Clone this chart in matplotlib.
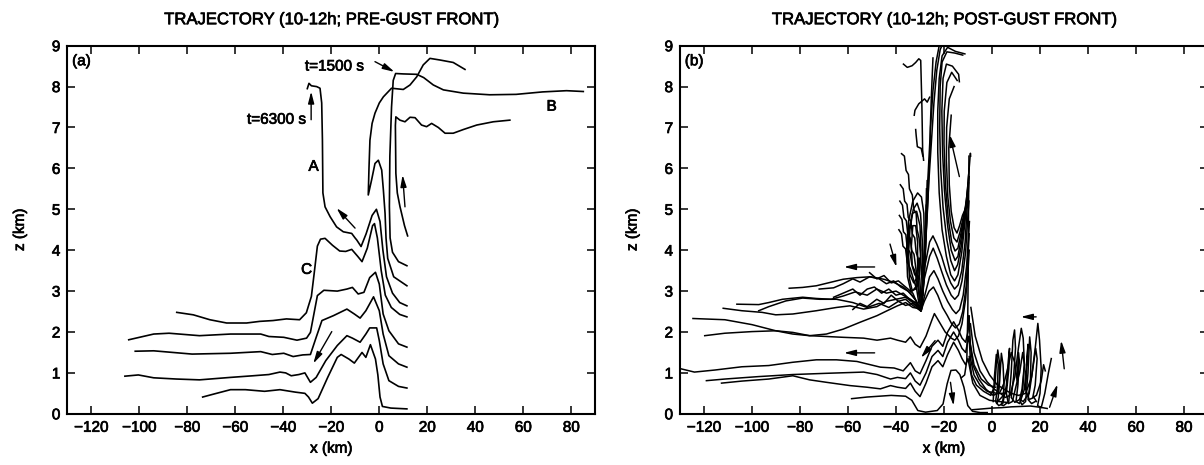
import matplotlib
matplotlib.use("Agg")
import matplotlib.pyplot as plt
import matplotlib.patheffects as pe

plt.rcParams['font.family'] = ['Liberation Sans', 'DejaVu Sans']

# ---------------- panel (a): pre-gust-front trajectories ----------------
A_x = [-30.0, -29.3, -28.3, -26.1, -24.7, -24.0, -23.7, -23.5, -22.6, -20.5, -17.8, -15.0,
       -11.5, -10.1, -9.4, -7.6, -5.5, -3.0, -1.2, 0.3, 1.5, 3.0, 5.5, 8.5, 11.5]
A_z = [7.95, 8.08, 8.02, 8.00, 7.96, 7.60, 6.70, 5.40, 5.06, 4.82, 4.57, 4.45,
       4.41, 4.30, 4.25, 4.09, 4.40, 4.85, 5.00, 4.70, 4.00, 3.35, 2.95, 2.72, 2.64]

B_x = [11.5, 8.0, 5.5, 4.5, 4.2, 4.4, 5.1, 5.8, 6.8, 10.0, 15.6, 18.5, 22.5, 26.7,
       35.0, 46.0, 57.0, 68.0, 78.0, 85.0]
B_z = [3.62, 3.72, 3.95, 4.30, 5.07, 6.30, 7.50, 8.15, 8.32, 8.31, 8.30, 8.22, 8.04, 7.92,
       7.84, 7.80, 7.81, 7.87, 7.90, 7.88]

C_x = [-84.4, -77.5, -70.6, -63.6, -55.3, -49.8, -44.3, -38.7, -33.2, -30.4, -28.3, -27.2,
       -25.8, -24.5, -22.6, -19.5, -16.5, -14.0, -11.5, -9.0, -7.2, -5.0, -2.8, -2.0, -0.8,
       0.8, 2.5, 5.0, 8.5, 11.5]
C_z = [2.48, 2.42, 2.30, 2.22, 2.22, 2.26, 2.28, 2.32, 2.30, 2.47, 2.87, 3.40,
       4.10, 4.27, 4.29, 4.12, 3.98, 3.97, 4.02, 3.85, 3.72, 4.05, 4.60, 4.65, 4.30,
       3.50, 2.90, 2.60, 2.43, 2.37]

hook_x = [11.5, 6.0, 3.5, 2.8, 2.4, 1.7, 1.0, -0.4, -1.8, -3.2, -4.6, -4.3, -3.9, -3.0,
          -1.8, 0.0, 1.7, 5.1, 10.0, 12.8, 15.6, 18.3, 21.1, 25.3, 30.8, 35.7]
hook_z = [3.13, 3.35, 3.80, 4.30, 4.90, 5.47, 5.96, 6.20, 6.12, 5.72, 5.35, 6.00, 6.69, 7.10,
          7.35, 7.60, 7.75, 7.96, 7.93, 8.04, 8.24, 8.53, 8.69, 8.65, 8.59, 8.42]

upper_x = [11.8, 10.5, 8.6, 7.5, 6.9, 6.8, 6.7, 6.9, 8.6, 10.7, 12.8, 14.9, 17.6, 19.7,
           21.8, 24.6, 27.4, 30.8, 35.0, 40.6, 47.5, 54.4]
upper_z = [4.35, 4.60, 5.07, 5.40, 5.88, 6.50, 7.05, 7.26, 7.18, 7.14, 7.25, 7.24, 7.06, 7.02,
           7.10, 7.00, 6.86, 6.86, 6.95, 7.06, 7.14, 7.18]

low1_x = [-104.4, -94.0, -87.6, -74.9, -62.0, -49.4, -46.0, -39.8, -34.3, -30.3, -28.7,
          -25.8, -23.1, -17.5, -13.5, -11.2, -8.8, -6.4, -4.0, -1.6, 0.0, 1.6, 4.0, 8.0, 11.5]
low1_z = [1.81, 1.95, 1.97, 1.91, 1.95, 1.95, 1.89, 1.87, 1.80, 1.85, 1.99,
          2.89, 3.02, 3.00, 3.05, 3.09, 2.93, 2.97, 3.33, 3.46, 3.17, 2.44, 2.03, 1.71, 1.63]

low2_x = [-101.7, -94.0, -86.0, -78.0, -62.0, -49.4, -44.6, -39.8, -35.9, -31.9, -28.7,
          -26.3, -23.9, -19.1, -13.5, -10.4, -8.0, -5.6, -2.4, 0.0, 1.6, 4.0, 8.0, 11.5]
low2_z = [1.53, 1.54, 1.50, 1.46, 1.48, 1.52, 1.45, 1.48, 1.40, 1.44, 1.45,
          1.87, 2.28, 2.40, 2.56, 2.44, 2.34, 2.52, 2.86, 2.52, 1.95, 1.42, 1.22, 1.14]

low3_x = [-106.0, -100.4, -94.0, -84.5, -74.9, -62.0, -52.6, -46.0, -41.4, -39.0, -36.7,
          -33.5, -31.0, -28.7, -26.3, -22.3, -17.5, -13.5, -11.2, -8.0, -5.6, -4.0, -1.1,
          0.0, 1.6, 4.0, 8.0, 11.5]
low3_z = [0.92, 0.95, 0.88, 0.85, 0.83, 0.89, 0.93, 0.96, 1.02, 1.00, 0.93,
          0.96, 1.00, 0.77, 0.89, 1.30, 1.67, 1.91, 1.85, 1.75, 1.95, 2.10, 2.10,
          1.79, 1.22, 0.81, 0.67, 0.63]

low4_x = [-73.6, -68.5, -62.0, -55.8, -47.8, -41.4, -35.0, -31.0, -29.5, -27.9, -25.5,
          -21.5, -17.5, -15.9, -12.7, -10.4, -7.2, -5.6, -3.7, -1.6, -0.6, 0.3, 1.3, 4.8, 11.5]
low4_z = [0.41, 0.49, 0.59, 0.59, 0.55, 0.59, 0.53, 0.50, 0.41, 0.26, 0.37,
          0.89, 1.38, 1.45, 1.34, 1.24, 1.50, 1.38, 1.69, 1.34, 0.95, 0.41, 0.18, 0.14, 0.12]

# ---------------- panel (b): post-gust-front trajectories ----------------
# long low-level paths entering from the west and climbing the wall near x=-10
b_low_d_x = [-58.5, -52.0, -42.0, -36.0, -33.4, -30.9, -27.7, -22.8, -20.4, -18.7, -17.1,
             -15.0, -13.4, -11.7, -10.1, -8.1, -4.9, -2.0]
b_low_d_z = [0.37, 0.41, 0.45, 0.43, 0.33, 0.08, 0.04, 0.08, 0.24, 0.73, 1.06,
             1.07, 0.96, 0.65, 0.20, 0.06, 0.03, 0.03]

b_low_c_x = [-112.7, -104.2, -93.0, -83.0, -76.0, -69.0, -59.2, -52.1, -46.5, -42.3, -39.4,
             -36.0, -34.0, -32.0, -30.0, -27.5, -25.0, -22.5, -20.5, -18.5, -16.0, -14.0,
             -12.5, -11.0, -10.0, -9.2, -8.0, -5.0, -1.0, 3.0, 6.0]
b_low_c_z = [0.75, 0.80, 0.85, 0.93, 0.83, 0.77, 0.69, 0.65, 0.61, 0.69, 0.65,
             0.62, 0.75, 0.55, 0.42, 0.75, 1.15, 1.30, 1.15, 1.45, 1.75, 1.55,
             1.35, 1.20, 1.35, 1.10, 0.75, 0.45, 0.33, 0.30, 0.28]

b_low_b_x = [-119.0, -111.3, -97.2, -83.0, -69.0, -53.5, -47.9, -42.3, -39.4, -36.0, -34.0,
             -32.0, -30.0, -27.5, -25.0, -22.5, -20.5, -18.5, -16.0, -14.0, -12.5, -11.0,
             -10.0, -9.6, -9.0, -7.5, -5.0, -2.0, 2.0, 5.0]
b_low_b_z = [0.81, 0.85, 0.91, 0.96, 0.99, 1.02, 0.96, 0.85, 0.89, 0.86, 1.00,
             0.80, 0.70, 1.00, 1.40, 1.55, 1.40, 1.75, 2.00, 1.80, 1.60, 1.50,
             1.80, 1.90, 1.35, 0.95, 0.70, 0.55, 0.50, 0.50]

b_low_a_x = [-129.6, -124.0, -115.5, -104.2, -93.0, -83.0, -73.2, -64.8, -56.3, -50.7, -46.5,
             -40.8, -37.0, -34.0, -32.0, -30.0, -27.5, -25.0, -22.5, -20.5, -18.5, -16.0,
             -14.0, -12.5, -11.0, -10.0, -9.6, -9.4, -9.0, -7.5, -4.5, -1.5, 1.5]
b_low_a_z = [1.10, 1.02, 1.07, 1.15, 1.18, 1.26, 1.32, 1.32, 1.28, 1.20, 1.14,
             1.12, 1.05, 1.25, 1.05, 0.98, 1.30, 1.65, 1.80, 1.65, 2.00, 2.25,
             2.05, 1.85, 1.75, 2.00, 2.40, 2.20, 1.70, 1.20, 0.85, 0.70, 0.65]

b_low_f_x = [-119.7, -111.3, -100.0, -90.1, -83.0, -76.0, -69.0, -62.0, -53.5, -47.9, -42.3,
             -39.4, -36.0, -34.0, -32.0, -30.0, -27.5, -25.0, -24.0, -22.0, -19.5, -17.0,
             -15.5, -14.0, -12.5, -11.0, -10.0, -9.5]
b_low_f_z = [1.91, 1.97, 2.01, 2.03, 1.99, 1.91, 1.89, 1.87, 1.85, 1.80, 1.85,
             1.80, 1.75, 1.88, 1.70, 1.62, 1.90, 2.30, 2.45, 2.25, 2.00, 1.85,
             1.80, 1.90, 2.20, 2.80, 3.50, 4.00]

b_low_e_x = [-124.6, -111.3, -100.0, -90.1, -83.0, -76.0, -69.0, -62.0, -54.9, -47.9, -43.7,
             -39.4, -36.0, -33.0, -31.0, -29.7, -28.6, -27.9, -27.4]
b_low_e_z = [2.33, 2.30, 2.18, 2.03, 1.95, 1.91, 1.95, 2.07, 2.24, 2.40, 2.52,
             2.64, 2.72, 2.60, 2.58, 2.52, 3.30, 4.20, 5.10]

# near-vertical ascent along the wall
b_wall_x = [-12.8, -11.4, -10.5, -10.1, -9.9, -9.8, -9.7, -9.6]
b_wall_z = [0.88, 0.95, 1.30, 2.40, 3.60, 4.80, 5.70, 6.30]

# chevrons leaving the cusp eastward and climbing the wall
b_chev1_x = [-29.6, -28.2, -26.2, -24.4, -22.6, -20.6, -18.6, -16.8, -15.2, -13.6, -12.2,
             -10.8, -10.0, -9.5]
b_chev1_z = [2.52, 2.75, 3.00, 3.10, 2.90, 2.60, 2.40, 2.20, 2.10, 2.20, 2.50,
             3.10, 3.90, 4.40]
b_chev2_x = [-29.6, -28.0, -26.0, -24.2, -22.5, -20.5, -18.5, -16.5, -15.0, -13.5, -12.0,
             -10.6, -9.8, -9.4]
b_chev2_z = [2.52, 2.90, 3.35, 3.50, 3.30, 3.00, 2.75, 2.55, 2.45, 2.55, 2.90,
             3.60, 4.30, 4.70]
b_chev3_x = [-29.4, -28.2, -26.0, -24.5, -22.8, -20.8, -19.0, -17.0, -15.5, -14.0, -12.5,
             -11.0, -10.2, -9.6]
b_chev3_z = [2.60, 3.30, 3.85, 4.05, 3.80, 3.45, 3.15, 2.90, 2.80, 2.90, 3.25,
             3.95, 4.70, 5.20]
b_chev4_x = [-29.2, -28.0, -26.0, -24.6, -23.0, -21.0, -19.2, -17.2, -15.6, -14.1, -12.6,
             -11.2, -10.4, -9.8, -9.5]
b_chev4_z = [2.90, 3.60, 4.20, 4.35, 4.15, 3.85, 3.50, 3.20, 3.05, 3.15, 3.50,
             4.20, 5.00, 5.50, 5.80]

# mid-level paths converging on the cusp near x=-30, z=2.5
b_mid_g_x = [-112.0, -104.2, -95.8, -90.1, -83.0, -73.2, -64.8, -59.2, -53.5, -48.0, -44.0,
             -40.0, -36.0, -33.0, -31.0, -29.7]
b_mid_g_z = [2.58, 2.52, 2.48, 2.42, 2.44, 2.52, 2.60, 2.64, 2.56, 2.62, 2.75,
             2.80, 2.85, 2.72, 2.62, 2.52]
b_mid_h_x = [-106.3, -97.2, -93.0, -87.3, -78.9, -73.2, -67.0, -62.0, -57.0, -52.0, -48.0,
             -44.0, -40.0, -37.0, -34.0, -31.5, -29.7]
b_mid_h_z = [2.68, 2.67, 2.72, 2.80, 2.85, 2.82, 2.80, 2.88, 2.98, 2.90, 3.05,
             2.95, 3.00, 2.90, 2.80, 2.70, 2.52]
b_mid_i_x = [-97.2, -93.0, -85.9, -78.9, -71.8, -64.8, -58.0, -52.0, -47.0, -43.0, -39.0,
             -36.0, -33.0, -31.0, -29.7]
b_mid_i_z = [2.52, 2.62, 2.76, 2.83, 2.80, 2.80, 2.72, 2.60, 2.70, 2.60, 2.75,
             2.65, 2.70, 2.60, 2.52]
b_mid_j_x = [-84.5, -78.9, -73.2, -67.6, -62.0, -56.3, -50.7, -45.1, -40.8, -37.0, -34.0,
             -31.5, -29.7]
b_mid_j_z = [3.07, 3.09, 3.13, 3.21, 3.29, 3.33, 3.35, 3.29, 3.21, 3.10, 2.95,
             2.75, 2.52]
b_mid_k_x = [-72.0, -66.0, -62.0, -58.0, -55.0, -51.0, -47.0, -44.0, -41.0, -38.0, -35.0,
             -32.0, -29.8]
b_mid_k_z = [3.05, 3.08, 3.18, 3.30, 3.22, 3.35, 3.30, 3.18, 3.25, 3.10, 3.00,
             2.80, 2.55]
b_mid_l_x = [-66.0, -62.0, -58.0, -55.0, -52.0, -49.0, -46.0, -43.0, -40.0, -37.0, -34.0,
             -31.5, -29.8]
b_mid_l_z = [2.85, 2.95, 3.05, 2.90, 3.05, 3.10, 2.95, 3.05, 2.90, 2.95, 2.78,
             2.70, 2.55]
b_mid_m_x = [-58.0, -55.0, -52.0, -48.0, -45.0, -42.0, -39.0, -36.0, -33.0, -30.5]
b_mid_m_z = [2.55, 2.70, 2.62, 2.80, 2.70, 2.90, 2.75, 2.80, 2.65, 2.55]
b_mid_n_x = [-51.0, -48.0, -45.0, -42.0, -39.0, -36.0, -33.0, -30.5]
b_mid_n_z = [3.45, 3.30, 3.38, 3.20, 3.25, 3.10, 2.95, 2.60]

# saw-tooth descents west of the cusp
b_saw1_x = [-37.7, -36.5, -35.8, -34.8, -34.4, -33.2, -32.6, -31.6, -31.2, -30.4, -29.8, -29.3, -28.9]
b_saw1_z = [6.36, 6.30, 5.95, 5.85, 5.50, 5.35, 5.00, 4.90, 4.50, 4.30, 3.90, 3.40, 2.80]
b_saw2_x = [-38.2, -37.0, -36.4, -35.4, -34.9, -33.8, -33.2, -32.2, -31.6, -30.8, -30.1, -29.5]
b_saw2_z = [5.60, 5.50, 5.20, 5.12, 4.80, 4.70, 4.40, 4.30, 3.95, 3.80, 3.30, 2.70]
b_saw3_x = [-38.4, -37.3, -36.7, -35.7, -35.1, -34.1, -33.5, -32.5, -31.6, -30.6, -29.9]
b_saw3_z = [5.20, 5.10, 4.80, 4.72, 4.40, 4.30, 4.00, 3.90, 3.50, 3.20, 2.65]
b_saw4_x = [-38.6, -37.5, -36.9, -35.9, -35.3, -34.2, -33.4, -32.2, -31.0, -30.0]
b_saw4_z = [4.85, 4.75, 4.45, 4.38, 4.05, 3.95, 3.65, 3.50, 3.15, 2.70]
b_saw5_x = [-38.8, -37.7, -37.1, -36.0, -35.3, -34.0, -32.8, -31.4, -30.2]
b_saw5_z = [4.50, 4.40, 4.10, 4.03, 3.70, 3.55, 3.30, 3.05, 2.60]

# eddy behind the cusp
b_eddy1_x = [-29.7, -28.6, -28.2, -28.4, -29.4, -31.0, -33.0, -34.8, -35.6, -35.2, -33.8, -31.8,
             -30.2, -29.6, -30.0, -31.4, -33.2, -34.6, -35.0, -34.2, -32.6, -31.0, -30.3]
b_eddy1_z = [2.60, 3.40, 4.20, 4.90, 5.30, 5.40, 5.20, 4.70, 4.00, 3.35, 3.00, 3.05,
             3.40, 4.00, 4.60, 4.95, 4.90, 4.50, 3.90, 3.40, 3.20, 3.35, 3.80]
b_eddy2_x = [-29.3, -28.9, -29.0, -29.8, -31.2, -32.8, -34.2, -34.8, -34.4, -33.2, -31.8, -31.0,
             -31.0, -31.8, -33.0, -33.6, -33.2, -32.2]
b_eddy2_z = [2.55, 3.30, 4.20, 4.90, 5.15, 5.00, 4.50, 3.90, 3.30, 3.00, 3.10, 3.60,
             4.20, 4.60, 4.60, 4.10, 3.60, 3.40]

# steep ascents from the cusp towards the anvil
b_rise1_x = [-29.7, -28.6, -27.9, -27.5, -27.3]
b_rise1_z = [2.52, 3.20, 4.00, 4.80, 5.50]
b_rise2_x = [-29.5, -28.3, -27.6, -27.2, -27.0]
b_rise2_z = [2.60, 3.30, 4.10, 4.90, 5.70]
b_rise3_x = [-29.7, -28.6, -27.8, -27.2, -26.4, -25.6, -24.6, -23.3, -22.0, -21.2]
b_rise3_z = [2.52, 3.30, 4.30, 5.20, 6.10, 7.00, 7.90, 8.60, 9.00, 9.15]
b_rise4_x = [-29.2, -28.2, -27.3, -26.4, -25.3, -24.2, -23.0, -21.6, -20.2]
b_rise4_z = [2.60, 3.60, 4.60, 5.60, 6.60, 7.60, 8.40, 8.90, 9.10]
b_rise5_x = [-28.8, -27.6, -26.6, -26.2, -25.8, -25.7, -25.2, -24.6]
b_rise5_z = [2.90, 4.20, 5.30, 6.10, 6.36, 7.00, 7.85, 8.70]

# upper-level fragments
b_top1_x = [-36.9, -35.3, -33.3, -31.8, -30.5, -29.7, -29.2, -28.9, -28.5]
b_top1_z = [8.55, 8.47, 8.51, 8.59, 8.68, 8.64, 7.50, 6.45, 6.20]
b_top2_x = [-32.4, -32.1, -30.5, -28.1, -27.0, -26.0]
b_top2_z = [7.30, 7.42, 7.58, 7.70, 7.62, 7.74]
b_top3_x = [-31.8, -31.6, -31.1, -29.5, -28.8]
b_top3_z = [6.95, 6.81, 6.53, 6.49, 6.30]

# nested arcs: down the west flank, across the trough, up the wall
b_arc1_x = [-11.3, -15.2, -18.5, -20.8, -22.0, -22.6, -22.6, -22.0, -20.8, -19.0, -17.2, -15.6,
            -14.2, -12.6, -11.0, -9.8, -9.0, -8.9]
b_arc1_z = [8.80, 8.86, 8.96, 8.75, 8.20, 7.40, 6.40, 5.40, 4.50, 3.85, 3.40, 3.25,
            3.40, 3.95, 4.85, 5.80, 6.37, 6.30]
b_arc2_x = [-12.2, -15.5, -18.8, -20.8, -21.6, -21.8, -21.4, -20.4, -18.8, -17.2, -15.6, -14.3,
            -12.8, -11.4, -10.2, -9.5]
b_arc2_z = [8.77, 8.82, 8.85, 8.60, 8.00, 7.00, 6.00, 5.05, 4.25, 3.75, 3.50, 3.65,
            4.10, 4.80, 5.50, 6.00]
b_arc3_x = [-13.6, -13.9, -14.3, -16.5, -19.0, -20.4, -20.9, -20.6, -19.8, -18.5, -17.0, -15.4,
            -14.2, -12.8, -11.6, -10.4, -9.8]
b_arc3_z = [8.12, 8.30, 8.33, 8.50, 8.55, 8.20, 7.40, 6.40, 5.45, 4.60, 4.00, 3.75,
            3.85, 4.30, 4.85, 5.35, 5.65]
b_arc4_x = [-14.5, -16.8, -18.8, -19.9, -20.0, -19.4, -18.2, -16.8, -15.4, -14.2, -12.8, -11.5,
            -10.4, -9.9]
b_arc4_z = [8.15, 8.35, 8.10, 7.40, 6.60, 5.60, 4.75, 4.20, 3.98, 4.05, 4.45, 4.90,
            5.25, 5.42]
b_arc5_x = [-15.8, -17.8, -18.9, -19.0, -18.4, -17.3, -15.9, -14.6, -13.3, -12.0, -10.9, -10.1]
b_arc5_z = [8.00, 7.70, 7.00, 6.20, 5.30, 4.70, 4.30, 4.20, 4.45, 4.80, 5.05, 5.18]
b_arc6_x = [-17.0, -18.0, -17.8, -17.0, -15.8, -14.6, -13.5, -12.3, -11.2, -10.4]
b_arc6_z = [7.30, 6.50, 5.60, 4.95, 4.55, 4.42, 4.60, 4.85, 5.00, 5.05]

# oscillating paths in the outflow east of the wall
b_osc1_x = [-9.5, -8.5, -6.5, -3.5, -0.5, 1.2, 1.8, 2.4, 3.0, 3.2, 2.6, 1.9, 2.4, 4.0, 5.5]
b_osc1_z = [1.40, 0.95, 0.70, 0.55, 0.45, 0.70, 1.20, 1.56, 1.30, 0.80, 0.40, 0.25, 0.30, 0.40, 0.50]
b_osc2_x = [-9.3, -8.0, -5.5, -2.5, 0.5, 2.5, 3.4, 3.9, 4.6, 5.0, 4.6, 3.8, 4.8, 7.0, 8.0, 8.7,
            9.4, 9.8, 9.0, 8.0, 9.5, 11.5]
b_osc2_z = [1.80, 1.20, 0.85, 0.60, 0.45, 0.50, 1.00, 1.48, 1.20, 0.70, 0.35, 0.22, 0.20, 0.30,
            1.00, 1.80, 2.05, 1.60, 0.90, 0.40, 0.28, 0.35]
b_osc3_x = [-9.0, -7.5, -5.0, -2.0, 1.0, 3.5, 5.5, 7.5, 9.5, 11.0, 12.2, 13.0, 13.5, 12.8, 11.8,
            12.5, 14.0, 15.0, 15.7, 16.3, 16.0, 15.0, 16.5, 18.0]
b_osc3_z = [2.20, 1.50, 1.05, 0.78, 0.60, 0.50, 0.40, 0.45, 0.90, 1.60, 2.09, 1.85, 1.20, 0.60,
            0.30, 0.22, 0.30, 1.00, 1.88, 1.50, 0.80, 0.35, 0.25, 0.30]
b_osc4_x = [-8.8, -7.0, -4.0, -1.0, 2.0, 5.0, 8.0, 11.0, 14.0, 16.5, 18.0, 19.1, 19.8, 20.5,
            20.0, 19.0, 20.5, 22.0, 23.5, 24.7]
b_osc4_z = [2.60, 1.90, 1.30, 0.95, 0.72, 0.60, 0.50, 0.45, 0.50, 0.90, 1.60, 2.21, 1.80, 1.10,
            0.50, 0.20, 0.15, 0.50, 1.00, 1.35]
b_osc5_x = [0.5, 1.0, 1.8, 2.6, 2.2, 1.5, 2.8, 4.5, 6.0, 6.8, 7.3, 7.0, 6.0, 6.8, 8.5, 10.5,
            11.0, 11.4, 10.8, 10.0, 11.5, 13.5, 14.5, 15.0, 14.6, 14.0, 15.5, 17.5, 18.5]
b_osc5_z = [0.30, 0.90, 1.45, 1.20, 0.60, 0.30, 0.20, 0.25, 0.70, 1.30, 1.60, 1.10, 0.50, 0.25,
            0.30, 0.80, 1.50, 1.30, 0.70, 0.30, 0.25, 0.60, 1.30, 1.70, 1.20, 0.60, 0.35, 0.40, 0.30]
b_osc6_x = [3.5, 5.0, 6.5, 8.0, 9.5, 10.5, 11.5, 12.8, 13.5, 12.5, 11.5, 13.0, 15.5, 17.0,
            18.2, 18.8, 18.0, 17.0, 18.5, 20.5, 21.5, 22.2]
b_osc6_z = [0.55, 0.75, 1.10, 1.50, 1.25, 0.80, 1.00, 1.50, 1.20, 0.60, 0.35, 0.30, 0.50, 1.10,
            1.60, 1.35, 0.70, 0.40, 0.45, 0.80, 1.20, 1.05]
b_flat_x = [-8.0, -4.0, 0.0, 4.0, 8.0, 12.0, 16.0, 20.0, 23.0]
b_flat_z = [0.10, 0.12, 0.14, 0.15, 0.17, 0.18, 0.19, 0.16, 0.13]

# axis ticks
x_ticks = [-120, -100, -80, -60, -40, -20, 0, 20, 40, 60, 80]
z_ticks = [0, 1, 2, 3, 4, 5, 6, 7, 8, 9]

panel_a_paths = [(A_x, A_z), (B_x, B_z), (C_x, C_z), (hook_x, hook_z), (upper_x, upper_z),
                 (low1_x, low1_z), (low2_x, low2_z), (low3_x, low3_z), (low4_x, low4_z)]

panel_b_paths = [
    (b_low_d_x, b_low_d_z), (b_low_c_x, b_low_c_z), (b_low_b_x, b_low_b_z),
    (b_low_a_x, b_low_a_z), (b_low_f_x, b_low_f_z), (b_low_e_x, b_low_e_z),
    (b_wall_x, b_wall_z),
    (b_chev1_x, b_chev1_z), (b_chev2_x, b_chev2_z), (b_chev3_x, b_chev3_z),
    (b_chev4_x, b_chev4_z),
    (b_mid_g_x, b_mid_g_z), (b_mid_h_x, b_mid_h_z), (b_mid_i_x, b_mid_i_z),
    (b_mid_j_x, b_mid_j_z), (b_mid_k_x, b_mid_k_z), (b_mid_l_x, b_mid_l_z),
    (b_mid_m_x, b_mid_m_z), (b_mid_n_x, b_mid_n_z),
    (b_saw1_x, b_saw1_z), (b_saw2_x, b_saw2_z), (b_saw3_x, b_saw3_z),
    (b_saw4_x, b_saw4_z), (b_saw5_x, b_saw5_z),
    (b_eddy1_x, b_eddy1_z), (b_eddy2_x, b_eddy2_z),
    (b_rise1_x, b_rise1_z), (b_rise2_x, b_rise2_z), (b_rise3_x, b_rise3_z),
    (b_rise4_x, b_rise4_z), (b_rise5_x, b_rise5_z),
    (b_top1_x, b_top1_z), (b_top2_x, b_top2_z), (b_top3_x, b_top3_z),
    (b_arc1_x, b_arc1_z), (b_arc2_x, b_arc2_z), (b_arc3_x, b_arc3_z),
    (b_arc4_x, b_arc4_z), (b_arc5_x, b_arc5_z), (b_arc6_x, b_arc6_z),
    (b_osc1_x, b_osc1_z), (b_osc2_x, b_osc2_z), (b_osc3_x, b_osc3_z),
    (b_osc4_x, b_osc4_z), (b_osc5_x, b_osc5_z), (b_osc6_x, b_osc6_z),
    (b_flat_x, b_flat_z),
]

W, H = 1204, 465
fig = plt.figure(figsize=(W / 100, H / 100), dpi=100)
ax_a = fig.add_axes([67.3 / W, 51.2 / H, 528 / W, 368.1 / H])
ax_b = fig.add_axes([680 / W, 51.2 / H, 528 / W, 368.1 / H])

# slightly heavier glyphs, like print
INK = [pe.withStroke(linewidth=0.5, foreground='black')]

ARROW = dict(arrowstyle='-|>,head_length=0.7,head_width=0.18', color='black',
             lw=1.0, shrinkA=0, shrinkB=0)


def arrow(ax, start, end):
    ax.annotate('', xy=end, xytext=start, arrowprops=ARROW, annotation_clip=False)


def label(ax, x, z, s, **kw):
    ax.text(x, z, s, fontsize=11, path_effects=INK, **kw)


def style_axes(ax, title, tag):
    ax.set_xlim(-130, 90)
    ax.set_ylim(0, 9)
    ax.set_xticks(x_ticks)
    ax.set_yticks(z_ticks)
    ax.tick_params(direction='in', length=6, width=1.1, top=True, right=True,
                   labelsize=11, pad=5)
    for t in ax.get_xticklabels() + ax.get_yticklabels():
        t.set_path_effects(INK)
    for s in ax.spines.values():
        s.set_linewidth(1.5)
    ax.set_xlabel('x (km)', fontsize=11, labelpad=5, path_effects=INK)
    ax.set_ylabel('z (km)', fontsize=11, labelpad=18, path_effects=INK)
    ax.text(0.5, 1.0 + 26 / 368, title, transform=ax.transAxes, ha='center',
            va='center', fontsize=12, path_effects=INK)
    label(ax, -128, 8.62, tag, ha='left', va='center')


for xs, zs in panel_a_paths:
    ax_a.plot(xs, zs, color='black', lw=1.2, solid_joinstyle='round')
for xs, zs in panel_b_paths:
    ax_b.plot(xs, zs, color='black', lw=1.1, solid_joinstyle='round')

style_axes(ax_a, 'TRAJECTORY (10-12h; PRE-GUST FRONT)', '(a)')
style_axes(ax_b, 'TRAJECTORY (10-12h; POST-GUST FRONT)', '(b)')

# panel (a) labels and direction arrows
label(ax_a, -31.0, 8.49, 't=1500 s', ha='left', va='center')
arrow(ax_a, (-1.8, 8.61), (6.3, 8.36))
label(ax_a, -30.6, 7.19, 't=6300 s', ha='right', va='center')
arrow(ax_a, (-28.4, 7.19), (-28.4, 7.88))
label(ax_a, -27.4, 6.04, 'A', ha='center', va='center')
label(ax_a, 71.8, 7.51, 'B', ha='center', va='center')
label(ax_a, -30.3, 3.52, 'C', ha='center', va='center')
arrow(ax_a, (-10.1, 4.54), (-17.8, 5.03))
arrow(ax_a, (10.7, 5.06), (9.7, 5.84))
arrow(ax_a, (-19.8, 2.01), (-27.5, 1.23))

# panel (b) direction arrows
arrow(ax_b, (-48.9, 3.59), (-61.7, 3.59))
arrow(ax_b, (-48.9, 1.49), (-61.7, 1.49))
arrow(ax_b, (-23.7, 1.79), (-29.6, 1.37))
arrow(ax_b, (-42.5, 4.15), (-39.8, 3.59))
arrow(ax_b, (-17.3, 0.77), (-16.0, 0.20))
arrow(ax_b, (18.4, 2.37), (12.0, 2.37))
arrow(ax_b, (30.1, 1.10), (28.8, 1.79))
arrow(ax_b, (24.0, 0.16), (27.3, 0.72))
arrow(ax_b, (-13.6, 5.80), (-17.6, 6.82))

fig.savefig('out.png', dpi=100)
